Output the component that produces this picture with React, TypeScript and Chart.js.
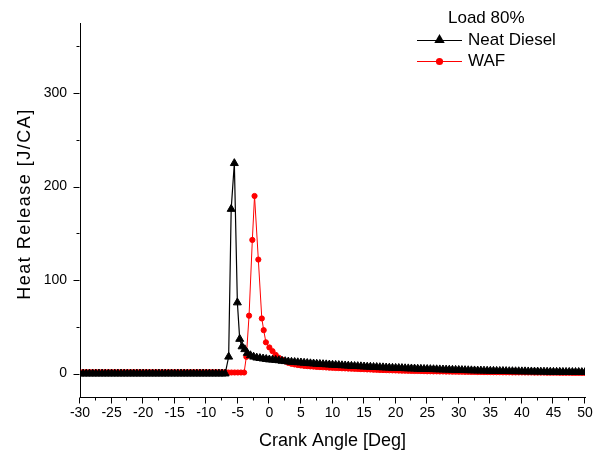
import React, { useEffect, useRef } from "react";
import { Chart, registerables } from "chart.js";

Chart.register(...registerables);

// ---------- data ----------
const earlyAngle = [
  -30, -29.5, -29, -28.5, -28, -27.5, -27, -26.5, -26, -25.5,
  -25, -24.5, -24, -23.5, -23, -22.5, -22, -21.5, -21, -20.5,
  -20, -19.5, -19, -18.5, -18, -17.5, -17, -16.5, -16, -15.5,
  -15, -14.5, -14, -13.5, -13, -12.5, -12, -11.5, -11, -10.5,
  -10, -9.5, -9, -8.5, -8, -7.5, -7,
];
const earlyDieselHR = [
  0, 0, 0, 0, 0, 0, 0, 0, 0, 0,
  0, 0, 0, 0, 0, 0, 0, 0, 0, 0,
  0, 0, 0, 0, 0, 0, 0, 0, 0, 0,
  0, 0, 0, 0, 0, 0, 0, 0, 0, 0,
  0, 0, 0, 0, 0, 0, 0,
];
const earlyWafHR = [
  1.5, 1.5, 1.5, 1.5, 1.5, 1.5, 1.5, 1.5, 1.5, 1.5,
  1.5, 1.5, 1.5, 1.5, 1.5, 1.5, 1.5, 1.5, 1.5, 1.5,
  1.5, 1.5, 1.5, 1.5, 1.5, 1.5, 1.5, 1.5, 1.5, 1.5,
  1.5, 1.5, 1.5, 1.5, 1.5, 1.5, 1.5, 1.5, 1.5, 1.5,
  1.5, 1.5, 1.5, 1.5, 1.5, 1.5, 1.5,
];

const dieselPeakAngle = [-6.45, -6.05, -5.55, -5.07, -4.7, -4.33, -3.9, -3.5, -3, -2.5, -2, -1.5, -1, -0.5];
const dieselPeakHR = [18, 176, 225, 76, 37, 29, 26, 22, 19.5, 18, 17, 16.5, 16, 15.5];

const wafPeakAngle = [-6.5, -6, -5.5, -5, -4.5, -4, -3.65, -3.22, -2.7, -2.35, -1.75, -1.2, -0.9, -0.55];
const wafPeakHR = [1.2, 1.2, 1.2, 1.2, 1.2, 1.2, 18, 62, 143, 190, 122, 59, 46.5, 33.5];

const tailAngle = [
  0, 0.5, 1, 1.5, 2, 2.5, 3, 3.5, 4, 4.5,
  5, 5.5, 6, 6.5, 7, 7.5, 8, 8.5, 9, 9.5,
  10, 10.5, 11, 11.5, 12, 12.5, 13, 13.5, 14, 14.5,
  15, 15.5, 16, 16.5, 17, 17.5, 18, 18.5, 19, 19.5,
  20, 20.5, 21, 21.5, 22, 22.5, 23, 23.5, 24, 24.5,
  25, 25.5, 26, 26.5, 27, 27.5, 28, 28.5, 29, 29.5,
  30, 30.5, 31, 31.5, 32, 32.5, 33, 33.5, 34, 34.5,
  35, 35.5, 36, 36.5, 37, 37.5, 38, 38.5, 39, 39.5,
  40, 40.5, 41, 41.5, 42, 42.5, 43, 43.5, 44, 44.5,
  45, 45.5, 46, 46.5, 47, 47.5, 48, 48.5, 49, 49.5,
  50,
];
const dieselTailHR = [
  15, 14.8, 14.5, 14.1, 13.6, 13.2, 12.8, 12.5, 12.3, 12.0,
  11.8, 11.5, 11.2, 10.9, 10.7, 10.4, 10.2, 10.0, 9.8, 9.6,
  9.4, 9.2, 9.0, 8.8, 8.6, 8.4, 8.2, 8.0, 7.9, 7.7,
  7.5, 7.3, 7.2, 7.0, 6.9, 6.7, 6.6, 6.4, 6.3, 6.1,
  6.0, 5.9, 5.8, 5.6, 5.5, 5.4, 5.3, 5.1, 5.0, 4.9,
  4.8, 4.7, 4.6, 4.5, 4.4, 4.3, 4.2, 4.1, 4.0, 3.9,
  3.8, 3.7, 3.6, 3.5, 3.4, 3.3, 3.2, 3.2, 3.1, 3.0,
  2.9, 2.9, 2.8, 2.7, 2.7, 2.6, 2.5, 2.5, 2.4, 2.4,
  2.3, 2.3, 2.2, 2.2, 2.1, 2.1, 2.0, 2.0, 1.9, 1.9,
  1.8, 1.8, 1.8, 1.7, 1.7, 1.7, 1.6, 1.6, 1.6, 1.5,
  1.5,
];
const wafTailHR = [
  28, 24, 20, 17, 15, 13, 11.5, 10.5, 9.8, 9.2,
  8.7, 8.3, 8.0, 7.7, 7.5, 7.2, 7.0, 6.8, 6.6, 6.4,
  6.2, 6.0, 5.9, 5.7, 5.6, 5.4, 5.3, 5.1, 5.0, 4.8,
  4.7, 4.5, 4.4, 4.2, 4.1, 3.9, 3.8, 3.7, 3.6, 3.5,
  3.4, 3.3, 3.2, 3.1, 3.0, 2.9, 2.8, 2.8, 2.7, 2.6,
  2.5, 2.5, 2.4, 2.4, 2.3, 2.3, 2.2, 2.2, 2.1, 2.1,
  2.0, 2.0, 1.9, 1.9, 1.8, 1.8, 1.7, 1.7, 1.6, 1.6,
  1.6, 1.5, 1.5, 1.5, 1.4, 1.4, 1.4, 1.3, 1.3, 1.3,
  1.3, 1.2, 1.2, 1.2, 1.1, 1.1, 1.1, 1.1, 1.0, 1.0,
  1.0, 1.0, 0.9, 0.9, 0.9, 0.9, 0.8, 0.8, 0.8, 0.8,
  0.8,
];

const xMajorTicks = [-30, -25, -20, -15, -10, -5, 0, 5, 10, 15, 20, 25, 30, 35, 40, 45, 50];
const xMinorTicks = [-27.5, -22.5, -17.5, -12.5, -7.5, -2.5, 2.5, 7.5, 12.5, 17.5, 22.5, 27.5, 32.5, 37.5, 42.5, 47.5];
const yMajorTicks = [0, 100, 200, 300];
const yMinorTicks = [50, 150, 250, 350];

const legendTitle = "Load 80%";
const seriesNames = ["Neat Diesel", "WAF"];
const xTitle = "Crank Angle [Deg]";
const yTitle = "Heat Release [J/CA]";

const FONT = '"Liberation Sans", Arial, sans-serif';

function toPoints(xs: number[], ys: number[]) {
  return xs.map((x, i) => ({ x, y: ys[i] }));
}

const overlayPlugin = {
  id: "overlay",
  afterDraw(chart: any) {
    const { ctx, chartArea, scales } = chart;
    const xs = scales.x;
    const ys = scales.y;
    ctx.save();
    ctx.strokeStyle = "#000";
    ctx.lineWidth = 1;
    ctx.beginPath();
    const b = Math.round(chartArea.bottom) + 0.5;
    const l = Math.round(chartArea.left) - 0.5;
    for (const v of xMajorTicks) {
      const p = Math.round(xs.getPixelForValue(v)) - 0.5;
      ctx.moveTo(p, b);
      ctx.lineTo(p, b + 6);
    }
    for (const v of xMinorTicks) {
      const p = Math.round(xs.getPixelForValue(v)) - 0.5;
      ctx.moveTo(p, b);
      ctx.lineTo(p, b + 3);
    }
    for (const v of yMajorTicks) {
      const p = Math.round(ys.getPixelForValue(v)) + 0.5;
      ctx.moveTo(l - 6, p);
      ctx.lineTo(l, p);
    }
    for (const v of yMinorTicks) {
      const p = Math.round(ys.getPixelForValue(v)) + 0.5;
      ctx.moveTo(l - 3, p);
      ctx.lineTo(l, p);
    }
    ctx.stroke();

    // axis titles
    ctx.fillStyle = "#000";
    ctx.font = `18px ${FONT}`;
    ctx.textAlign = "center";
    ctx.textBaseline = "middle";
    ctx.fillText(xTitle, (chartArea.left + chartArea.right) / 2, 441);
    ctx.save();
    ctx.translate(25.5, 204);
    ctx.rotate(-Math.PI / 2);
    try {
      (ctx as any).letterSpacing = "1.5px";
    } catch (e) {}
    ctx.fillText(yTitle, 0, 0);
    ctx.restore();

    // legend
    ctx.font = `17px ${FONT}`;
    ctx.textAlign = "left";
    ctx.fillText(legendTitle, 448, 18.5);
    // Neat Diesel
    ctx.strokeStyle = "#000";
    ctx.lineWidth = 1;
    ctx.beginPath();
    ctx.moveTo(417, 40.5);
    ctx.lineTo(462, 40.5);
    ctx.stroke();
    const r = 6;
    const cx = 439.5;
    const cy = 40;
    ctx.fillStyle = "#000";
    ctx.beginPath();
    ctx.moveTo(cx, cy - r);
    ctx.lineTo(cx + r * Math.sin(Math.PI / 3), cy + r / 2);
    ctx.lineTo(cx - r * Math.sin(Math.PI / 3), cy + r / 2);
    ctx.closePath();
    ctx.fill();
    ctx.fillText(seriesNames[0], 468, 40);
    // WAF
    ctx.strokeStyle = "#ff0000";
    ctx.beginPath();
    ctx.moveTo(417, 61.5);
    ctx.lineTo(462, 61.5);
    ctx.stroke();
    ctx.fillStyle = "#ff0000";
    ctx.beginPath();
    ctx.arc(439.5, 61.5, 3.6, 0, Math.PI * 2);
    ctx.fill();
    ctx.fillStyle = "#000";
    ctx.fillText(seriesNames[1], 468, 61.5);
    ctx.restore();
  },
};

export default function App() {
  const canvasRef = useRef<HTMLCanvasElement | null>(null);

  useEffect(() => {
    const canvas = canvasRef.current;
    if (!canvas) return;
    const chart = new Chart(canvas, {
      type: "scatter",
      data: {
        datasets: [
          {
            label: seriesNames[0],
            data: toPoints([...earlyAngle, ...dieselPeakAngle, ...tailAngle], [...earlyDieselHR, ...dieselPeakHR, ...dieselTailHR]),
            showLine: true,
            borderColor: "#000",
            backgroundColor: "#000",
            borderWidth: 1.2,
            pointStyle: "triangle",
            pointRadius: 4.6,
            pointBorderWidth: 1,
            pointBackgroundColor: "#000",
            pointBorderColor: "#000",
            tension: 0,
          },
          {
            label: seriesNames[1],
            data: toPoints([...earlyAngle, ...wafPeakAngle, ...tailAngle], [...earlyWafHR, ...wafPeakHR, ...wafTailHR]),
            showLine: true,
            borderColor: "#ff0000",
            backgroundColor: "#ff0000",
            borderWidth: 1,
            pointStyle: "circle",
            pointRadius: 2.6,
            pointBorderWidth: 1,
            pointBackgroundColor: "#ff0000",
            pointBorderColor: "#ff0000",
            tension: 0,
          },
        ],
      },
      options: {
        animation: false,
        responsive: true,
        maintainAspectRatio: false,
        layout: { padding: { top: 23, right: 20, bottom: 0, left: 0 } },
        plugins: {
          legend: { display: false },
          tooltip: { enabled: false },
        },
        scales: {
          x: {
            type: "linear",
            position: "bottom",
            min: -30,
            max: 50,
            grid: { display: false, drawTicks: false },
            border: { display: true, color: "#000", width: 1 },
            ticks: {
              font: { family: FONT, size: 14 },
              color: "#000",
              padding: 7.5,
              maxRotation: 0,
              autoSkip: false,
            },
            afterBuildTicks: (s: any) => {
              s.ticks = xMajorTicks.map((v) => ({ value: v }));
            },
            afterFit: (s: any) => {
              s.height = 62;
            },
          },
          y: {
            type: "linear",
            position: "left",
            min: -25,
            max: 375,
            grid: { display: false, drawTicks: false },
            border: { display: true, color: "#000", width: 1 },
            ticks: {
              font: { family: FONT, size: 14 },
              color: "#000",
              padding: 13,
            },
            afterBuildTicks: (s: any) => {
              s.ticks = yMajorTicks.map((v) => ({ value: v }));
            },
            afterFit: (s: any) => {
              s.width = 80;
            },
          },
        },
      },
      plugins: [overlayPlugin],
    });
    return () => chart.destroy();
  }, []);

  return (
    <div style={{ position: "absolute", left: 0, top: 0, width: 605, height: 459, background: "#fff" }}>
      <canvas ref={canvasRef} />
    </div>
  );
}
